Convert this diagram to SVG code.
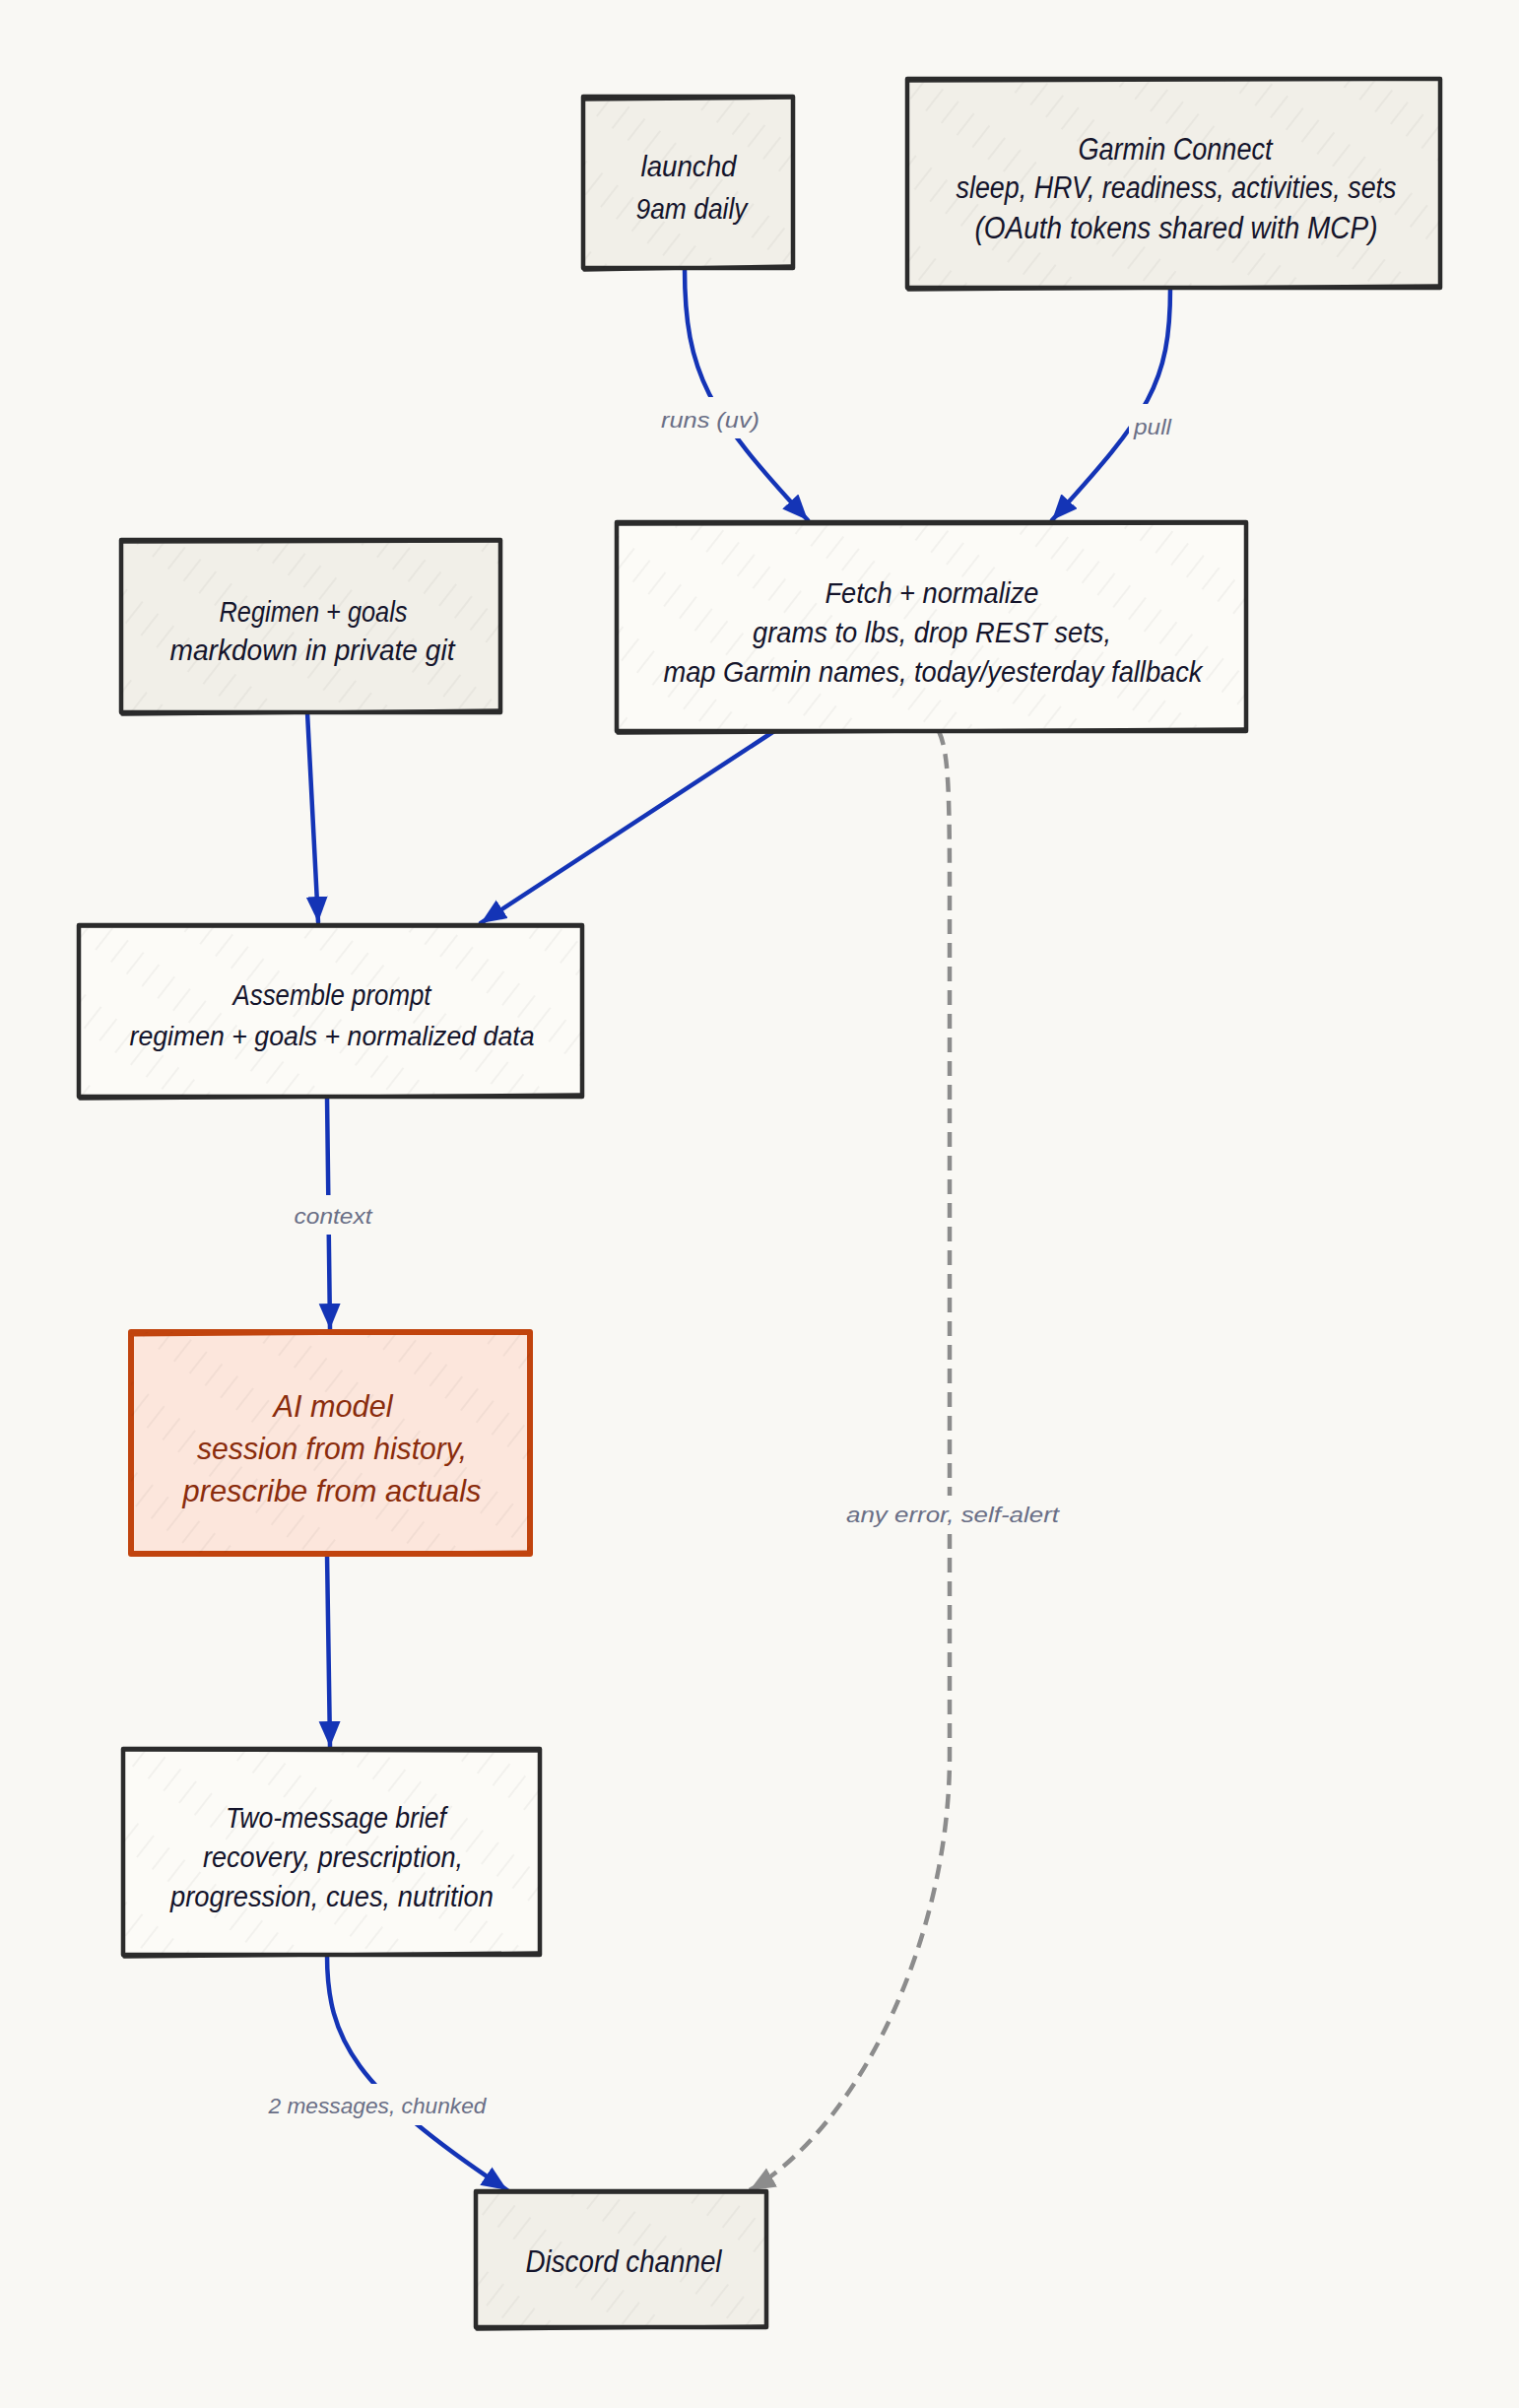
<svg xmlns="http://www.w3.org/2000/svg" width="1542" height="2444" viewBox="0 0 1542 2444">
<style>
.bg{fill:#f9f8f4}
.gray{fill:#f1efe8}
.white{fill:#fcfbf7}
.box{stroke:#2b2b2b;stroke-width:4.5;stroke-linejoin:round}
.edge2{fill:none;stroke:#2b2b2b;stroke-width:3.5;stroke-linecap:round}
.ai{fill:#fce6dc;stroke:#c1440e;stroke-width:6;stroke-linejoin:round}
.ai2{fill:none;stroke:#c1440e;stroke-width:3;stroke-linecap:round}
.t{font-family:"Liberation Sans",Arial,sans-serif;font-style:italic;fill:#14142b;text-anchor:middle}
.tai{font-family:"Liberation Sans",Arial,sans-serif;font-style:italic;fill:#8a2c0c;text-anchor:middle}
.lbl{font-family:"Liberation Sans",Arial,sans-serif;font-style:italic;fill:#6a6f86;text-anchor:middle;font-size:22px}
.lblbg{fill:#f9f8f4}
.conn{fill:none;stroke:#1434b6;stroke-width:4.5;stroke-linecap:round}
.dash{fill:none;stroke:#8c8c8c;stroke-width:4.5;stroke-dasharray:15 9}
</style>
<defs>
<pattern id="hatch" width="70" height="20" patternUnits="userSpaceOnUse" patternTransform="rotate(-52)">
<line x1="0" y1="10" x2="70" y2="10" stroke="#000" stroke-opacity="0.055" stroke-width="1.3" stroke-dasharray="28 42"/>
</pattern>
<marker id="ah" markerUnits="userSpaceOnUse" markerWidth="28" markerHeight="24" refX="26" refY="11" orient="auto">
<path d="M0,0 L26,11 L0,22 Z" fill="#1434b6"/>
</marker>
<marker id="ahg" markerUnits="userSpaceOnUse" markerWidth="28" markerHeight="24" refX="26" refY="11" orient="auto">
<path d="M0,0 L26,11 L0,22 Z" fill="#8c8c8c"/>
</marker>
</defs>
<rect class="bg" x="0" y="0" width="1542" height="2444"/>

<g id="connectors">
<path class="conn" d="M695,272 C695,380 720,420 820,528" marker-end="url(#ah)"/>
<path class="conn" d="M1188,292 C1188,390 1166,420 1068,528" marker-end="url(#ah)"/>
<path class="conn" d="M312,723 L323,936" marker-end="url(#ah)"/>
<path class="conn" d="M786,742 L488,937" marker-end="url(#ah)"/>
<path class="conn" d="M332,1113 L335,1349" marker-end="url(#ah)"/>
<path class="conn" d="M332,1577 L335,1773" marker-end="url(#ah)"/>
<path class="conn" d="M332,1984 C332,2070 360,2120 515,2223" marker-end="url(#ah)"/>
<path class="dash" d="M953,742 C962,762 964,792 964,904 L964,1782 C964,1970 870,2160 761,2223" marker-end="url(#ahg)"/>
<rect class="lblbg" x="667" y="403" width="108" height="42"/>
<text class="lbl" x="721" y="434" textLength="100" lengthAdjust="spacingAndGlyphs">runs (uv)</text>
<rect class="lblbg" x="1146" y="410" width="48" height="38"/>
<text class="lbl" x="1170" y="441" textLength="38" lengthAdjust="spacingAndGlyphs">pull</text>
<rect class="lblbg" x="293" y="1213" width="90" height="40"/>
<text class="lbl" x="338" y="1242" textLength="79" lengthAdjust="spacingAndGlyphs">context</text>
<rect class="lblbg" x="855" y="1518" width="224" height="38"/>
<text class="lbl" x="967" y="1545" textLength="216" lengthAdjust="spacingAndGlyphs">any error, self-alert</text>
<rect class="lblbg" x="268" y="2115" width="231" height="42"/>
<text class="lbl" x="383" y="2145" textLength="221" lengthAdjust="spacingAndGlyphs">2 messages, chunked</text>
</g>

<g id="launchd">
<rect class="box gray" x="592" y="98" width="213" height="174"/>
<rect x="592" y="98" width="213" height="174" fill="url(#hatch)"/>
<path class="edge2" d="M592,101 L805,99 M593,274 L805,270"/>
<text class="t" font-size="29" x="699" y="179" textLength="97" lengthAdjust="spacingAndGlyphs">launchd</text>
<text class="t" font-size="29" x="702" y="222" textLength="113" lengthAdjust="spacingAndGlyphs">9am daily</text>
</g>

<g id="garmin">
<rect class="box gray" x="921" y="80" width="541" height="212"/>
<rect x="921" y="80" width="541" height="212" fill="url(#hatch)"/>
<path class="edge2" d="M921,82 L1462,80 M922,294 L1462,290"/>
<text class="t" font-size="31" x="1193" y="162" textLength="197" lengthAdjust="spacingAndGlyphs">Garmin Connect</text>
<text class="t" font-size="31" x="1194" y="201" textLength="447" lengthAdjust="spacingAndGlyphs">sleep, HRV, readiness, activities, sets</text>
<text class="t" font-size="31" x="1194" y="242" textLength="409" lengthAdjust="spacingAndGlyphs">(OAuth tokens shared with MCP)</text>
</g>

<g id="regimen">
<rect class="box gray" x="123" y="548" width="385" height="175"/>
<rect x="123" y="548" width="385" height="175" fill="url(#hatch)"/>
<path class="edge2" d="M123,550 L508,549 M124,725 L508,721"/>
<text class="t" font-size="29" x="318" y="631" textLength="191" lengthAdjust="spacingAndGlyphs">Regimen + goals</text>
<text class="t" font-size="29" x="317" y="670" textLength="289" lengthAdjust="spacingAndGlyphs">markdown in private git</text>
</g>

<g id="fetch">
<rect class="box white" x="626" y="530" width="639" height="212"/>
<rect x="626" y="530" width="639" height="212" fill="url(#hatch)"/>
<path class="edge2" d="M626,532 L1265,531 M627,744 L1265,740"/>
<text class="t" font-size="29" x="946" y="612" textLength="217" lengthAdjust="spacingAndGlyphs">Fetch + normalize</text>
<text class="t" font-size="29" x="946" y="652" textLength="364" lengthAdjust="spacingAndGlyphs">grams to lbs, drop REST sets,</text>
<text class="t" font-size="29" x="947" y="692" textLength="547" lengthAdjust="spacingAndGlyphs">map Garmin names, today/yesterday fallback</text>
</g>

<g id="assemble">
<rect class="box white" x="80" y="939" width="511" height="174"/>
<rect x="80" y="939" width="511" height="174" fill="url(#hatch)"/>
<path class="edge2" d="M80,940 L591,940 M81,1115 L591,1111"/>
<text class="t" font-size="29" x="337" y="1020" textLength="201" lengthAdjust="spacingAndGlyphs">Assemble prompt</text>
<text class="t" font-size="27" x="337" y="1061" textLength="411" lengthAdjust="spacingAndGlyphs">regimen + goals + normalized data</text>
</g>

<g id="ai-model">
<rect class="ai" x="133" y="1352" width="405" height="225"/>
<rect x="133" y="1352" width="405" height="225" fill="url(#hatch)"/>
<path class="ai2" d="M133,1355 L538,1352 M134,1578 L538,1575"/>
<text class="tai" font-size="32" x="338" y="1438" textLength="121" lengthAdjust="spacingAndGlyphs">AI model</text>
<text class="tai" font-size="32" x="337" y="1481" textLength="274" lengthAdjust="spacingAndGlyphs">session from history,</text>
<text class="tai" font-size="32" x="337" y="1524" textLength="303" lengthAdjust="spacingAndGlyphs">prescribe from actuals</text>
</g>

<g id="brief">
<rect class="box white" x="125" y="1775" width="423" height="209"/>
<rect x="125" y="1775" width="423" height="209" fill="url(#hatch)"/>
<path class="edge2" d="M125,1776 L548,1777 M126,1986 L548,1982"/>
<text class="t" font-size="30" x="341" y="1855" textLength="224" lengthAdjust="spacingAndGlyphs">Two-message brief</text>
<text class="t" font-size="30" x="338" y="1895" textLength="264" lengthAdjust="spacingAndGlyphs">recovery, prescription,</text>
<text class="t" font-size="30" x="337" y="1935" textLength="328" lengthAdjust="spacingAndGlyphs">progression, cues, nutrition</text>
</g>

<g id="discord">
<rect class="box gray" x="483" y="2224" width="295" height="138"/>
<rect x="483" y="2224" width="295" height="138" fill="url(#hatch)"/>
<path class="edge2" d="M483,2225 L778,2225 M484,2364 L778,2361"/>
<text class="t" font-size="32" x="633" y="2306" textLength="199" lengthAdjust="spacingAndGlyphs">Discord channel</text>
</g>
</svg>
